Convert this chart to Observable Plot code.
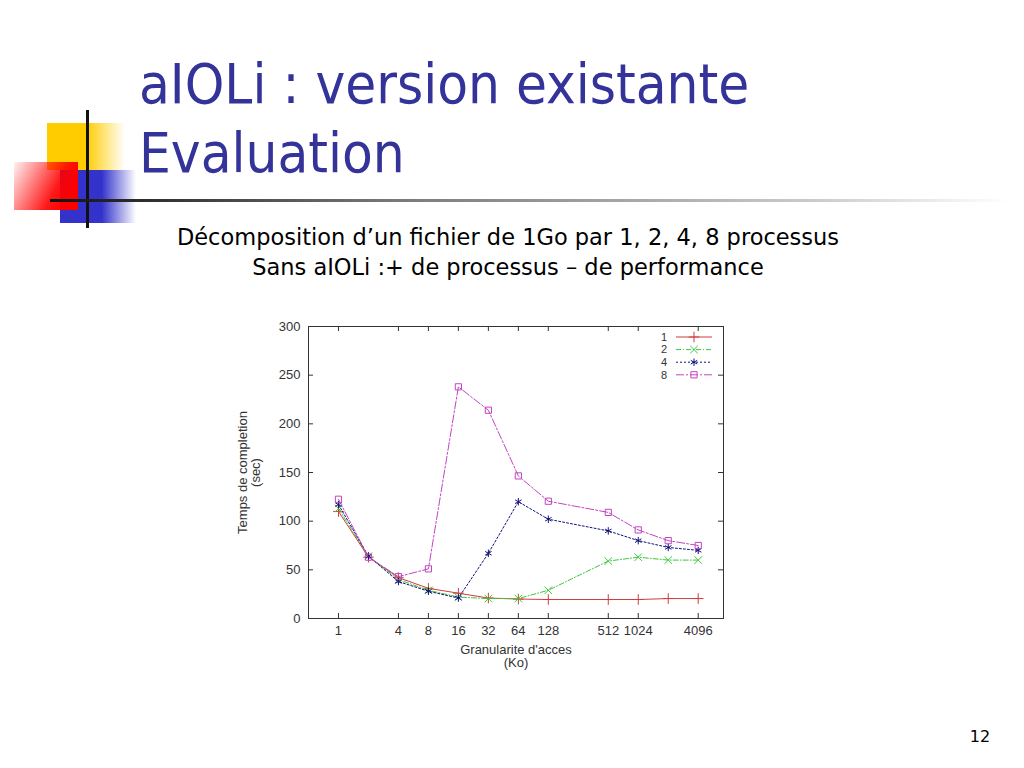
<!DOCTYPE html>
<html><head><meta charset="utf-8">
<script src="https://cdn.jsdelivr.net/npm/d3@7"></script>
<script src="https://cdn.jsdelivr.net/npm/@observablehq/plot@0.6"></script>
<style>
html,body{margin:0;padding:0;background:#fff}
body{width:1024px;height:768px;position:relative;overflow:hidden}
#deco{position:absolute;left:0;top:0}
#chart{position:absolute;left:220px;top:310px}
</style>
</head><body>
<svg id="deco" width="1024" height="768">
  <defs>
    <linearGradient id="gY" x1="0" x2="1" y1="0" y2="0">
      <stop offset="0" stop-color="#ffcc00"/><stop offset="0.5" stop-color="#ffcc00"/><stop offset="1" stop-color="#ffcc00" stop-opacity="0"/>
    </linearGradient>
    <linearGradient id="gB" x1="0" x2="1" y1="0" y2="0">
      <stop offset="0" stop-color="#3333cc"/><stop offset="0.55" stop-color="#3333cc"/><stop offset="1" stop-color="#3333cc" stop-opacity="0"/>
    </linearGradient>
    <linearGradient id="gR" x1="0" x2="1" y1="0" y2="0.4">
      <stop offset="0" stop-color="#ff0000" stop-opacity="0.05"/><stop offset="0.75" stop-color="#ff0000" stop-opacity="0.9"/><stop offset="1" stop-color="#ff0000"/>
    </linearGradient>
    <linearGradient id="gL" x1="0" x2="1" y1="0" y2="0">
      <stop offset="0" stop-color="#111"/><stop offset="0.35" stop-color="#777"/><stop offset="0.8" stop-color="#ccc"/><stop offset="1" stop-color="#fff"/>
    </linearGradient>
  </defs>
  <rect x="47" y="123" width="78" height="47" fill="url(#gY)"/>
  <rect x="60" y="170" width="76" height="53" fill="url(#gB)"/>
  <rect x="14" y="162" width="64" height="48" fill="url(#gR)"/>
  <rect x="86" y="110" width="3" height="118" fill="#111"/>
  <rect x="50" y="199" width="960" height="3" fill="url(#gL)"/>
  <g font-family="DejaVu Sans Condensed, DejaVu Sans, sans-serif" fill="#333399" font-size="56">
    <text x="139" y="103">aIOLi : version existante</text>
    <text x="139" y="172">Evaluation</text>
  </g>
  <g font-family="DejaVu Sans, sans-serif" fill="#000" font-size="22.5" text-anchor="middle">
    <text x="508" y="245">Décomposition d’un fichier de 1Go par 1, 2, 4, 8 processus</text>
    <text x="508" y="275">Sans aIOLi :+ de processus – de performance</text>
  </g>
  <text x="980" y="742" font-family="DejaVu Sans, sans-serif" font-size="16" text-anchor="middle">12</text>
</svg>
<div id="chart"></div>
<script>
// ---- data ----
const granularity = [1, 2, 4, 8, 16, 32, 64, 128, 512, 1024, 2048, 4096];
const proc1 = [110, 63, 42, 31, 26, 21, 20, 19.5, 19.5, 19.5, 20.5, 20.5];
const proc2 = [113, 64, 40, 29, 22, 20.5, 20.5, 29, 59, 63, 60, 60];
const proc4 = [117, 64, 38, 28, 21, 67, 120, 102, 90, 80, 73, 70];
const proc8 = [122.5, 63, 43, 51, 238, 214, 146.5, 120.5, 109, 91, 80, 75];
const seriesNames = ["1", "2", "4", "8"];
const xTickValues = [1, 4, 8, 16, 32, 64, 128, 512, 1024, 4096];
const yTickValues = [0, 50, 100, 150, 200, 250, 300];

// ---- styles ----
const styles = {
  "1": {color: "#d23c3c", dash: null, symbol: "plus"},
  "2": {color: "#3cc83c", dash: "5,2,1,2", symbol: "times"},
  "4": {color: "#10107a", dash: "2,2", symbol: "asterisk"},
  "8": {color: "#c244c2", dash: "8,2,2,2", symbol: "square"}
};
const values = {"1": proc1, "2": proc2, "4": proc4, "8": proc8};

const W = 520, H = 370, mL = 88, mR = 17, mT = 16, mB = 62;
const innerH = H - mT - mB, innerW = W - mL - mR, tick = 5;

const marks = [
  Plot.frame({stroke: "#333", strokeWidth: 1}),
  Plot.tickX(xTickValues, {x: d => d, insetTop: innerH - tick, stroke: "#333"}),
  Plot.tickX(xTickValues, {x: d => d, insetBottom: innerH - tick, stroke: "#333"}),
  Plot.tickY(yTickValues, {y: d => d, insetRight: innerW - tick, stroke: "#333"}),
  Plot.tickY(yTickValues, {y: d => d, insetLeft: innerW - tick, stroke: "#333"}),
  Plot.axisX({ticks: xTickValues, tickSize: 0, tickPadding: 7, tickFormat: d => String(d), label: null}),
  Plot.axisY({ticks: yTickValues, tickSize: 0, tickPadding: 8, tickFormat: d => String(d), label: null}),
  Plot.text(["Granularite d'acces\n(Ko)"], {frameAnchor: "bottom", dy: 26, lineAnchor: "top", textAnchor: "middle", lineHeight: 1.0, fill: "#333"}),
  Plot.text(["Temps de completion\n(sec)"], {frameAnchor: "left", dx: -59, rotate: -90, textAnchor: "middle", lineAnchor: "middle", lineHeight: 1.0, fill: "#333"})
];
for (const s of seriesNames) {
  const rows = granularity.map((g, i) => ({g, v: values[s][i]}));
  const st = styles[s];
  marks.push(Plot.line(rows, {x: "g", y: "v", stroke: st.color, strokeWidth: 1, strokeDasharray: st.dash}));
  marks.push(Plot.dot(rows, {x: "g", y: "v", stroke: st.color, fill: "none", symbol: st.symbol, r: 3.5, strokeWidth: 1}));
}

const plot = Plot.plot({
  width: W, height: H,
  marginLeft: mL, marginRight: mR, marginTop: mT, marginBottom: mB,
  x: {type: "log", base: 2, domain: [0.5, 7350]},
  y: {domain: [0, 300]},
  style: {fontFamily: "Liberation Sans, Arial, sans-serif", fontSize: "13px", color: "#333", background: "#fff"},
  marks
});
document.getElementById("chart").appendChild(plot);

// legend (inside top right of frame)
const svg = d3.select(plot);
const lg = svg.append("g").attr("font-family", "Liberation Sans, Arial, sans-serif").attr("font-size", 11).attr("fill", "#333");
const symMap = {plus: d3.symbolPlus, times: d3.symbolTimes, asterisk: d3.symbolAsterisk, square: d3.symbolSquare};
const right = W - mR;
seriesNames.forEach((s, i) => {
  const st = styles[s];
  const y = mT + 11 + i * 12.6;
  lg.append("text").attr("x", right - 56).attr("y", y).attr("dy", "0.35em").attr("text-anchor", "end").text(s);
  lg.append("line").attr("x1", right - 47).attr("x2", right - 11).attr("y1", y).attr("y2", y)
    .attr("stroke", st.color).attr("stroke-dasharray", st.dash);
  lg.append("path").attr("transform", `translate(${right - 29},${y})`)
    .attr("d", d3.symbol(symMap[st.symbol], Math.PI * 3.5 * 3.5)())
    .attr("fill", "none").attr("stroke", st.color);
});
</script>
</body></html>
